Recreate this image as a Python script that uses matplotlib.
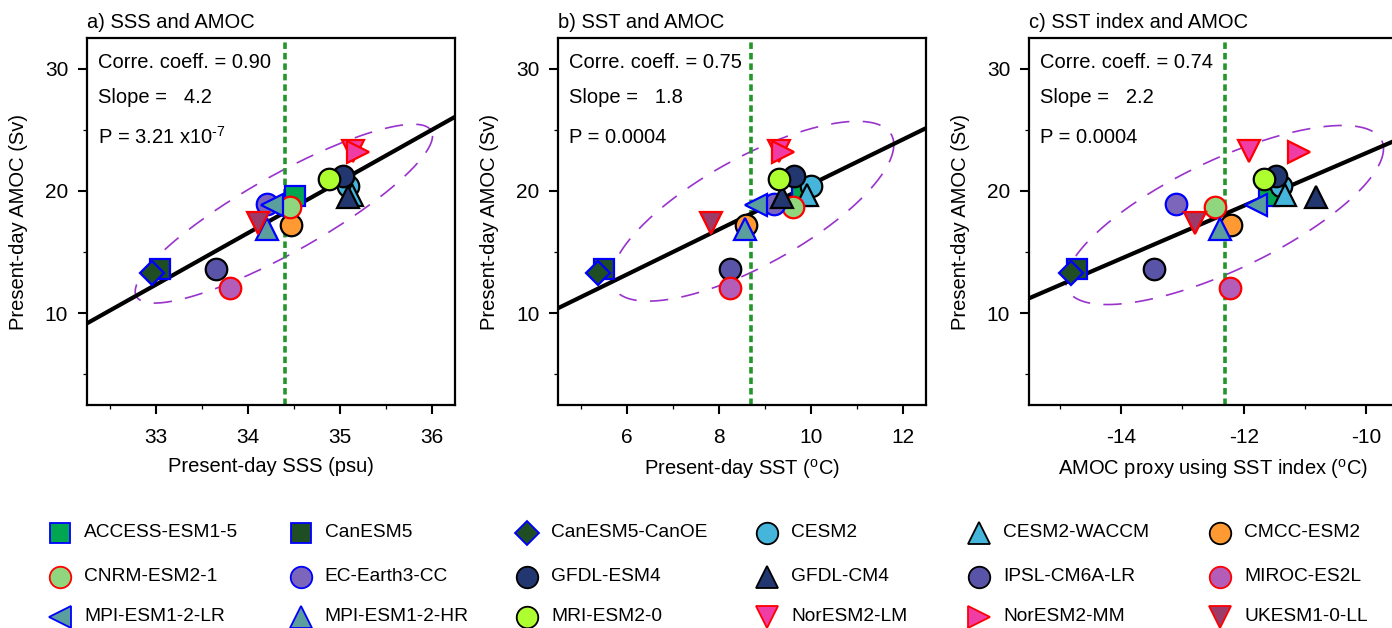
import numpy as np
import matplotlib
matplotlib.use('Agg')
import matplotlib.pyplot as plt

plt.rcParams['font.family'] = ['Liberation Sans', 'DejaVu Sans']
plt.rcParams['mathtext.fontset'] = 'custom'
plt.rcParams['mathtext.rm'] = 'Liberation Sans'
plt.rcParams['mathtext.it'] = 'Liberation Sans'
plt.rcParams['axes.linewidth'] = 1.6
plt.rcParams['axes.unicode_minus'] = False

# CMIP6 models, one marker each
models = ['ACCESS-ESM1-5', 'CanESM5', 'CanESM5-CanOE', 'CESM2', 'CESM2-WACCM', 'CMCC-ESM2',
          'CNRM-ESM2-1', 'EC-Earth3-CC', 'GFDL-ESM4', 'GFDL-CM4', 'IPSL-CM6A-LR', 'MIROC-ES2L',
          'MPI-ESM1-2-LR', 'MPI-ESM1-2-HR', 'MRI-ESM2-0', 'NorESM2-LM', 'NorESM2-MM', 'UKESM1-0-LL']
markers = ['s', 's', 'D', 'o', '^', 'o', 'o', 'o', 'o', '^', 'o', 'o', '<', '^', 'o', 'v', '>', 'v']
fills = ['#00a650', '#1f4d24', '#1f4d24', '#45b5dc', '#45b5dc', '#ff9a33', '#90d67e', '#7b66bb',
         '#223670', '#223670', '#5a54a8', '#b35cb8', '#5b9e9e', '#5b9e9e', '#adff2f', '#f03da5',
         '#f03da5', '#9c3a6a']
edges = ['blue', 'blue', 'blue', 'black', 'black', 'black', 'red', 'blue', 'black', 'black',
         'black', 'red', 'blue', 'blue', 'black', 'red', 'red', 'red']

# present-day AMOC (Sv)
amoc = [19.6, 13.65, 13.3, 20.4, 19.65, 17.2, 18.65, 18.9, 21.25, 19.5, 13.58, 12.08,
        18.85, 16.9, 21.0, 23.25, 23.15, 17.35]
# present-day SSS (psu)
sss = [34.51, 33.04, 32.96, 35.09, 35.13, 34.47, 34.46, 34.21, 35.03, 35.09, 33.65, 33.80,
       34.26, 34.21, 34.88, 35.14, 35.20, 34.11]
# present-day SST (degC)
sst = [9.81, 5.51, 5.36, 9.99, 9.92, 8.58, 9.61, 9.19, 9.63, 9.37, 8.23, 8.23,
       8.80, 8.56, 9.30, 9.30, 9.39, 7.82]
# AMOC proxy from SST index (degC)
sst_index = [-11.58, -14.72, -14.81, -11.39, -11.32, -12.21, -12.47, -13.11, -11.48, -10.82,
             -13.47, -12.23, -11.80, -12.39, -11.67, -11.92, -11.09, -12.80]

titles = ['a) SSS and AMOC', 'b) SST and AMOC', 'c) SST index and AMOC']
xlabels = ['Present-day SSS (psu)', 'Present-day SST ($^{\\mathrm{o}}$C)',
           'AMOC proxy using SST index ($^{\\mathrm{o}}$C)']
corr = [0.90, 0.75, 0.74]
slope = [4.22, 1.84, 2.16]
intercept = [-126.92, 2.13, 44.70]
pval = ['3.21 x10$^{\\mathrm{\u2010}7}$', '0.0004', '0.0004']
obs = [34.40, 8.70, -12.30]
# confidence ellipse: centre x, centre y, half range x, half range y, correlation
ellipses = [(34.39, 18.14, 1.616, 7.31, 0.87),
            (8.73, 18.34, 3.07, 7.35, 0.74),
            (-12.31, 18.03, 2.59, 7.32, 0.74)]
xlims = [(32.25, 36.25), (4.5, 12.5), (-15.5, -9.5)]
xmajor = [[33, 34, 35, 36], [6, 8, 10, 12], [-14, -12, -10]]
xminor = [[32.5, 33.5, 34.5, 35.5], [5, 7, 9, 11], [-15, -13, -11]]
xdata = [sss, sst, sst_index]

msize = {'o': 15.5, 's': 14.5, 'D': 12.5, '^': 16, 'v': 16, '<': 16, '>': 16}

W, H = 1392, 628
fig = plt.figure(figsize=(W / 100, H / 100), dpi=100)

lefts = [87, 558, 1029]
for k in range(3):
    ax = fig.add_axes([lefts[k] / W, (H - 405) / H, 368 / W, 367 / H])
    x0, x1 = xlims[k]

    # regression line
    xx = np.array([x0, x1])
    ax.plot(xx, intercept[k] + slope[k] * xx, c='k', lw=3, zorder=2)

    # ellipse
    cx, cy, ax_, by, rho = ellipses[k]
    t = np.linspace(0, 2 * np.pi, 400)
    ex = cx + ax_ * np.cos(t)
    ey = cy + by * (rho * np.cos(t) - np.sqrt(1 - rho**2) * np.sin(t))
    ax.plot(ex, ey, c='#9933cc', lw=1.2, ls=(0, (11, 8)), zorder=1)

    # observed value
    ax.axvline(obs[k], c='#23952a', lw=2.6, ls=(0, (1.8, 1.1)), zorder=1)

    for i in range(len(models)):
        m = markers[i]
        ax.plot(xdata[k][i], amoc[i], marker=m, ms=msize[m], mfc=fills[i], mec=edges[i],
                mew=1.6, ls='', zorder=3 + i * 0.01, clip_on=False)

    ax.set_xlim(x0, x1)
    ax.set_ylim(2.5, 32.5)
    ax.set_xticks(xmajor[k])
    ax.set_xticks(xminor[k], minor=True)
    ax.set_yticks([10, 20, 30])
    ax.set_yticks([5, 15, 25], minor=True)
    ax.tick_params(which='major', length=6.5, width=1.5, labelsize=15, direction='out')
    ax.tick_params(which='minor', length=3, width=0.9, direction='out')
    ax.tick_params(axis='x', which='major', pad=10)
    ax.tick_params(axis='y', which='major', pad=7)

    ax.set_xlabel(xlabels[k], fontsize=14.5, labelpad=7)
    ax.set_ylabel('Present-day AMOC (Sv)', fontsize=14.5, labelpad=12)
    ax.set_title(titles[k], loc='left', fontsize=14.5, pad=7)

    ax.text(0.031, 0.932, f'Corre. coeff. = {corr[k]:.2f}', transform=ax.transAxes,
            va='center', fontsize=14.5)
    ax.text(0.031, 0.837, f'Slope =   {slope[k]:.1f}', transform=ax.transAxes,
            va='center', fontsize=14.5)
    ax.text(0.031, 0.730, 'P = ' + pval[k], transform=ax.transAxes,
            va='center', fontsize=14.5)

# legend grid below the panels
lax = fig.add_axes([0, 0, 1, 1])
lax.set_xlim(0, W)
lax.set_ylim(H, 0)
lax.axis('off')
col_x = [60, 300.5, 527, 767, 979, 1220]
row_y = [532.5, 576.5, 616.5]
for i in range(len(models)):
    r, c = divmod(i, 6)
    m = markers[i]
    lax.plot(col_x[c], row_y[r], marker=m, ms=msize[m], mfc=fills[i], mec=edges[i],
             mew=1.3, ls='')
    lax.text(col_x[c] + 24, row_y[r], models[i], va='center', fontsize=13.8)

fig.savefig('out.png', dpi=100)
